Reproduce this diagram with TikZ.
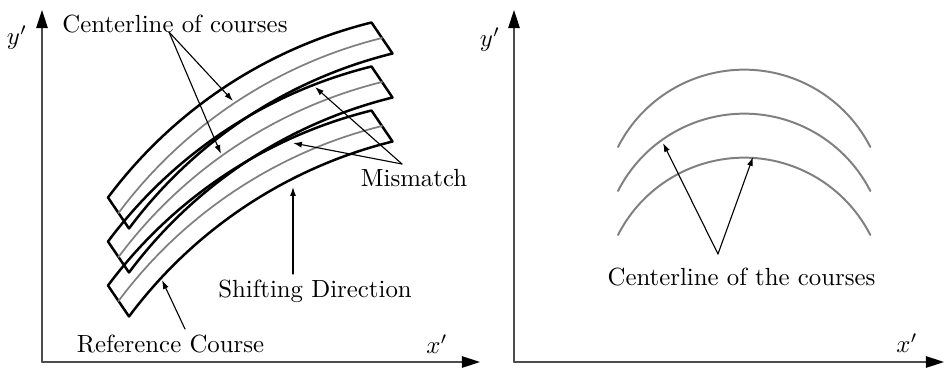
\documentclass[tikz,border=0pt]{standalone}
\usepackage{amsmath}
\usepackage{tikz}
\usetikzlibrary{arrows.meta}

\begin{document}
\begin{tikzpicture}[
  x=0.403pt,y=-0.403pt,
  line cap=round,
  line join=round,
  >=Latex,
  axis/.style={draw=black!70,line width=0.6pt,-{Triangle[length=7.3pt,width=4.6pt,color=black]}},
  course/.style={draw=black,line width=1pt},
  cline/.style={draw=black!50,line width=0.7pt},
  note/.style={draw=black,line width=0.45pt,-{Latex[length=3.6pt,width=2.4pt]}},
  lbl/.style={anchor=base,inner sep=0pt}
]
\useasboundingbox (0,0) rectangle (944,369);

% Left axes
\coordinate (oL) at (42,362);
\coordinate (yL) at (42,10);
\coordinate (xL) at (480,362);
\draw[axis] (oL) -- (yL);
\draw[axis] (oL) -- (xL);
\node (ylab) at (17,38) {$y'$};
\node (xlab) at (437,344) {$x'$};

% Top course
\begin{scope}[shift={(0,0)}]
  \draw[course] (108,197.5) .. controls (173,110.4) and (266.1,48.6) .. (371.5,22.5)
    -- (392.5,53.5) .. controls (287.1,79.6) and (194,141.4) .. (129,228.5) -- cycle;
  \draw[cline] (118.5,213) .. controls (183.5,125.9) and (276.6,64.1) .. (382,38);
\end{scope}

% Middle course
\begin{scope}[shift={(0,44)}]
  \draw[course] (108,197.5) .. controls (173,110.4) and (266.1,48.6) .. (371.5,22.5)
    -- (392.5,53.5) .. controls (287.1,79.6) and (194,141.4) .. (129,228.5) -- cycle;
  \draw[cline] (118.5,213) .. controls (183.5,125.9) and (276.6,64.1) .. (382,38);
\end{scope}

% Reference course
\begin{scope}[shift={(0,88)}]
  \draw[course] (108,197.5) .. controls (173,110.4) and (266.1,48.6) .. (371.5,22.5)
    -- (392.5,53.5) .. controls (287.1,79.6) and (194,141.4) .. (129,228.5) -- cycle;
  \draw[cline] (118.5,213) .. controls (183.5,125.9) and (276.6,64.1) .. (382,38);
\end{scope}

% labels and pointers
\node[lbl] (cl) at (175,33) {Centerline of courses};
\node[lbl] (mm) at (414,187) {Mismatch};
\node[lbl] (sd) at (315,297) {Shifting Direction};
\node[lbl] (rc) at (170.5,352) {Reference Course};

\coordinate (clfoot) at (169,32);
\coordinate (cltipA) at (233,101);
\coordinate (cltipB) at (221,154);
\coordinate (mmfoot) at (402,164);
\coordinate (mmtipA) at (315,87);
\coordinate (mmtipB) at (293,143);
\coordinate (sdfoot) at (293,274);
\coordinate (sdtip)  at (293,187);
\coordinate (rcfoot) at (185,329);
\coordinate (rctip)  at (162,280);

\draw[note] (clfoot) -- (cltipA);
\draw[note] (clfoot) -- (cltipB);
\draw[note] (mmfoot) -- (mmtipA);
\draw[note] (mmfoot) -- (mmtipB);
\draw[note] (sdfoot) -- (sdtip);
\draw[note] (rcfoot) -- (rctip);

% Right axes
\coordinate (oR) at (514,362);
\coordinate (yR) at (514,10);
\coordinate (xR) at (944,362);
\draw[axis] (oR) -- (yR);
\draw[axis] (oR) -- (xR);
\node (ylabR) at (490,40) {$y'$};
\node (xlabR) at (907,343) {$x'$};

% centerlines only
\draw[cline,line width=0.8pt] (618,147) arc[start angle=207,end angle=333,radius=141.6];
\draw[cline,line width=0.8pt] (618,191) arc[start angle=207,end angle=333,radius=141.6];
\draw[cline,line width=0.8pt] (618,235) arc[start angle=207,end angle=333,radius=141.6];

\node[lbl] (clr) at (741.5,285) {Centerline of the courses};
\coordinate (clrfoot) at (718,254);
\coordinate (clrtipA) at (663,143);
\coordinate (clrtipB) at (753,157);
\draw[note] (clrfoot) -- (clrtipA);
\draw[note] (clrfoot) -- (clrtipB);

\end{tikzpicture}
\end{document}
